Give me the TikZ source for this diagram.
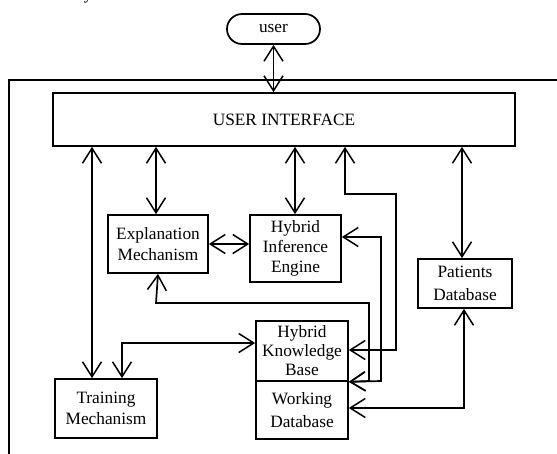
\documentclass[tikz,border=0pt]{standalone}
\usepackage{fontspec}
\setmainfont{Liberation Serif}
\usetikzlibrary{arrows.meta}
\begin{document}
\begin{tikzpicture}[x=1pt,y=-1pt,
  line width=1.7pt,
  box/.style={draw,rectangle,inner sep=0pt,align=center,font=\fontsize{17.3}{20}\selectfont},
  dbl/.style={{Straight Barb[length=15pt,width=19pt,line width=1.5pt]}-{Straight Barb[length=15pt,width=19pt,line width=1.5pt]}}]
\useasboundingbox (0,0) rectangle (557,453);
\node[anchor=base west,inner sep=0pt,font=\fontsize{17}{20}\selectfont] (frag) at (83,-1) {y};
% outer frame
\coordinate (fbl) at (9,454);
\coordinate (ftl) at (9,80);
\coordinate (ftr) at (558,80);
\draw (fbl) -- (ftl) -- (ftr);
% nodes
\node[box,rounded corners=15pt,minimum width=93pt,minimum height=30pt] (user) at (273.5,29) {user};
\node[box,minimum width=462pt,minimum height=53pt] (ui) at (284,119.5) {USER INTERFACE};
\node[box,minimum width=100pt,minimum height=58pt] (em) at (158,244) {Explanation\\[1.5pt]Mechanism};
\node[box,minimum width=91pt,minimum height=67pt] (hie) at (295.5,248.5) {Hybrid\\Inference\\Engine};
\node[box,minimum width=94pt,minimum height=49pt] (pd) at (465,283.5) {Patients\\[3pt]Database};
\node[box,minimum width=92pt,minimum height=60pt,font=\fontsize{17.3}{19}\selectfont] (hkb) at (302,351) {Hybrid\\Knowledge\\Base};
\node[box,minimum width=92pt,minimum height=58pt] (wd) at (302,410) {Working\\[3pt]Database};
\node[box,minimum width=102pt,minimum height=59pt] (tm) at (106,408.5) {Training\\[1pt]Mechanism};
% connectors
\draw[dbl] (user.south) -- (ui.north -| user.south);
\draw[dbl] (ui.south -| 92,0) -- (tm.north -| 92,0);
\draw[dbl] (ui.south -| 156,0) -- (em.north -| 156,0);
\draw[dbl] (ui.south -| 295,0) -- (hie.north -| 295,0);
\draw[dbl] (ui.south -| 345,0) -- (345,194) -- (396,194) -- (396,350) -- (hkb.east |- 0,350);
\draw[dbl] (ui.south -| 462,0) -- (pd.north -| 462,0);
\draw[dbl] (em.east) -- (hie.west |- em.east);
\draw[dbl] (hie.east |- 0,237) -- (381,237) -- (381,381) -- (hkb.south east);
\draw[dbl] (em.south) -- (156,303) -- (369,303) -- (369,381) -- (hkb.south east);
\draw[dbl] (tm.north -| 122,0) -- (122,343) -- (hkb.west |- 0,343);
\draw[dbl] (pd.south -| 464,0) -- (464,408) -- (wd.east |- 0,408);
\end{tikzpicture}
\end{document}
